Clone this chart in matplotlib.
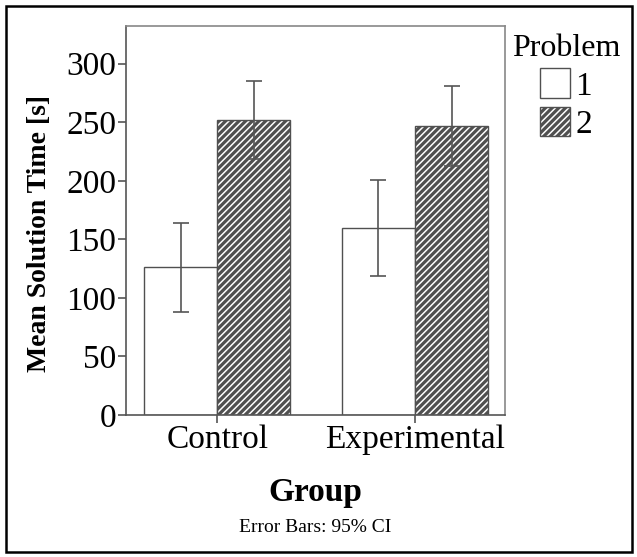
import matplotlib.pyplot as plt
import numpy as np
from matplotlib.patches import Patch, Rectangle

groups = ["Control", "Experimental"]
problems = ["1", "2"]
means_p1 = [126, 160]
means_p2 = [252, 247]
ci_p1 = [38, 41]
ci_p2 = [33, 34]

plt.rcParams['font.family'] = ['Liberation Serif', 'DejaVu Serif']
plt.rcParams['hatch.linewidth'] = 2.3
plt.rcParams['hatch.color'] = 'black'

fig = plt.figure(figsize=(6.37, 5.57), dpi=100)
ax = fig.add_axes([0.198, 0.255, 0.595, 0.698])

# outer frame, a few pixels inside the figure edge
fig.patches.append(Rectangle((6/637, 5/557), 626/637, 546/557, transform=fig.transFigure,
                             fill=False, edgecolor='black', linewidth=1.8))

x = np.arange(len(groups))
w = 0.37
edge = '#505050'
errc = '#555555'
hatch = '/' * 5

ax.bar(x - w/2, means_p1, w, color='white', edgecolor=edge, linewidth=1)
ax.bar(x + w/2, means_p2, w, color='white', edgecolor=edge, linewidth=1, hatch=hatch)
ax.errorbar(x - w/2, means_p1, yerr=ci_p1, fmt='none', ecolor=errc, elinewidth=1.2, capsize=6, capthick=1.2)
ax.errorbar(x + w/2, means_p2, yerr=ci_p2, fmt='none', ecolor=errc, elinewidth=1.2, capsize=6, capthick=1.2)

ax.set_xlim(-0.46, 1.455)
ax.set_ylim(0, 332)
ax.set_yticks([0, 50, 100, 150, 200, 250, 300])
ax.set_xticks(x)
ax.set_xticklabels(groups)
ax.tick_params(axis='both', labelsize=24, length=6, width=1.2, color='#555555', pad=1)
for s in ['left', 'bottom']:
    ax.spines[s].set_color('#555555')
    ax.spines[s].set_linewidth(1.2)
for s in ['top', 'right']:
    ax.spines[s].set_color('#888888')
    ax.spines[s].set_linewidth(1.2)

fig.text(0.495, 1 - 493/557, "Group", ha='center', va='center', fontsize=24, fontweight='bold')
fig.text(0.495, 1 - 528/557, "Error Bars: 95% CI", ha='center', va='center', fontsize=14)
fig.text(40/637, 1 - 234/557, "Mean Solution Time [s]", ha='center', va='center',
         rotation=90, fontsize=20, fontweight='bold')

handles = [Patch(facecolor='white', edgecolor=edge, label=problems[0]),
           Patch(facecolor='white', edgecolor=edge, hatch=hatch, label=problems[1])]
leg = fig.legend(handles=handles, title="Problem", loc='upper center',
                 bbox_to_anchor=(566/637, 1 - 11/557), frameon=False, fontsize=24,
                 title_fontsize=23, handlelength=0.9, handleheight=1.0,
                 handletextpad=0.15, labelspacing=0.15, borderpad=0.2, alignment='center')

fig.savefig("out.png", dpi=100)
